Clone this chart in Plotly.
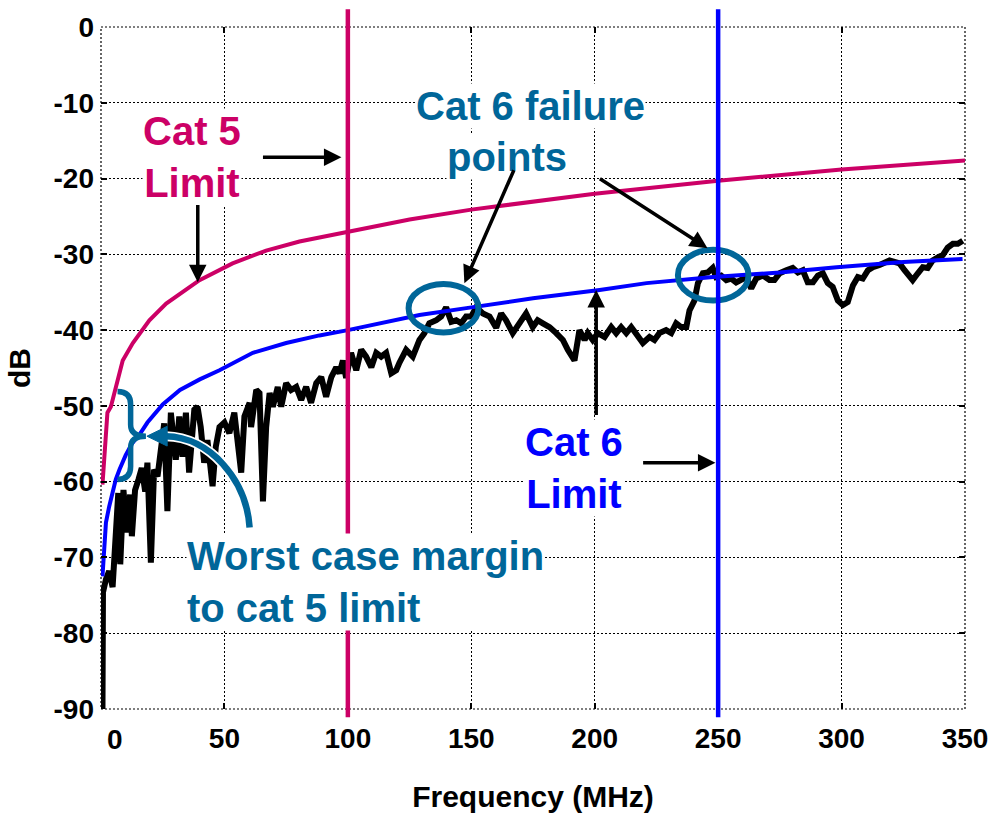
import plotly.graph_objects as go

# Measured NEXT of the link under test (MHz, dB)
meas_freq = [
    0.6, 0.8, 2.0, 3.3, 4.7, 5.6, 7.0, 7.8, 9.1, 10.5, 11.8, 12.5, 13.8, 15.2, 16.5,
    17.9, 18.8, 20.2, 21.5, 22.9, 24.2, 25.6, 26.9, 28.3, 30.3, 31.7, 33.0, 34.4, 35.7,
    37.8, 39.1, 40.4, 41.8, 43.1, 45.2, 46.5,
    48.0, 50.0, 52.0, 54.0, 56.8, 58.1, 60.2, 60.8, 62.9, 64.2, 65.6, 66.9, 68.3, 69.6,
    71.6, 73.0, 75.0, 77.0, 79.1, 81.1, 83.1, 85.1, 87.2, 89.2, 91.2, 93.3, 95.3, 96.6,
    98.0, 99.3, 101.3, 103.4, 105.4, 107.4, 109.5, 111.5, 113.5, 115.5, 117.6, 119.6,
    120.9, 123.6, 126.3, 129.0, 131.0, 133.0, 135.8, 137.8, 139.8, 141.9, 143.9, 145.9,
    147.9, 150.0, 152.0, 154.7, 157.4, 160.1, 162.1, 164.1, 166.8, 169.5, 172.2, 174.9,
    176.9, 179.0, 181.7, 184.4, 187.1, 189.1, 191.8,
    193.8, 195.9, 197.2, 199.2, 201.3, 204.0, 206.7, 208.7, 210.7, 212.8, 214.8, 216.8,
    219.5, 222.2, 224.2, 226.2, 228.9, 231.0, 233.0, 235.0, 237.1, 238.4, 240.4, 241.8,
    243.8, 245.8, 247.8, 249.2, 251.2, 253.3, 255.3, 257.3, 259.3, 261.4, 263.4, 265.4,
    268.1,
    270.8, 272.8, 274.9, 277.6, 280.2, 282.3, 284.3, 286.3, 288.4, 290.4, 292.4, 294.4,
    296.4, 298.5, 300.5, 302.5, 304.6, 306.6, 308.6, 310.7, 312.7, 315.4, 317.4, 319.4,
    321.4, 323.5, 325.5, 327.5, 328.8, 330.9, 332.9, 334.9, 336.9, 339.0, 341.0, 343.0,
    345.1, 347.1, 349.1,
]
meas_db = [
    -90.0, -74.6, -72.9, -71.8, -73.9, -67.6, -61.5, -70.9, -61.1, -66.7, -61.7, -67.2,
    -61.1, -59.7, -58.2, -61.3, -57.5, -70.7, -58.4, -59.3, -55.4, -52.3, -63.9, -50.9,
    -57.1, -51.4, -56.7, -50.9, -58.8, -50.5, -50.1, -52.8, -57.5, -54.5, -60.6, -55.4,
    -52.8, -52.2, -53.6, -50.9, -58.8, -51.4, -49.6, -52.8, -47.9, -48.3, -62.6, -52.8,
    -48.3, -50.1, -47.5, -50.1, -47.0, -47.9, -47.5, -49.2, -47.5, -49.6, -47.0, -46.2,
    -48.8, -46.2, -44.9, -45.7, -44.0, -46.3, -43.0, -45.3, -42.6, -43.5, -44.9, -43.0,
    -43.5, -43.0, -45.7, -45.3,
    -44.3, -42.6, -43.5, -41.3, -40.4, -39.1, -38.7, -38.2, -37.0, -38.9, -38.7, -39.1,
    -38.2, -38.2, -37.0, -37.8, -38.2, -39.7, -37.8, -38.7, -40.4, -39.1, -37.8, -39.6,
    -38.7, -39.1, -39.6, -40.4, -41.3, -42.6, -44.0,
    -40.0, -41.3, -40.4, -41.3, -40.4, -40.9, -39.6, -40.4, -39.6, -40.4, -39.6, -40.4,
    -41.7, -40.9, -41.3, -40.4, -40.0, -40.4, -39.1, -39.6, -39.6, -37.4, -36.1, -33.8,
    -32.5, -32.4, -31.8, -33.0, -32.8, -33.4, -33.2, -33.7, -33.4, -33.0, -34.5, -33.2,
    -32.8,
    -33.4, -33.4, -32.5, -32.1, -31.8, -32.4, -32.1, -33.7, -33.7, -32.8, -32.5, -33.8,
    -34.3, -36.1, -36.7, -36.3, -34.1, -33.0, -33.2, -32.1, -31.7, -31.4, -31.2, -30.8,
    -31.0, -31.2, -32.1, -32.8, -33.4, -32.5, -31.7, -31.8, -30.8, -30.4, -30.1, -29.1,
    -28.6, -28.6, -28.2,
]

# Cat 5 channel NEXT limit
cat5_freq = [0.6, 1.3, 2.0, 2.6, 4.0, 5.3, 6.7, 8.8, 12.9, 15.6, 19.6, 26.4, 30.5, 39.9,
             53.3, 66.9, 80.4, 99.3, 125, 150, 175, 200, 250, 300, 350]
cat5_db = [-60.4, -57.5, -53.6, -50.9, -50.1, -48.3, -46.4, -44.0, -41.7, -40.4, -38.7,
           -36.5, -35.6, -33.4, -31.2, -29.5, -28.3, -27.1, -25.4, -24.1, -23.0, -22.0,
           -20.3, -18.8, -17.6]

# Cat 6 channel NEXT limit
cat6_freq = [0.6, 1.3, 2.0, 3.3, 4.7, 6.0, 7.5, 10, 12.5, 16.0, 18.8, 25, 32, 40, 48,
             61.5, 75, 88.5, 100, 115.5, 129, 148, 175, 202, 221, 248, 275, 298, 325, 349]
cat6_db = [-72.5, -68.6, -65.4, -63.3, -61.4, -59.7, -58.4, -56.5, -55.0, -53.6, -52.2,
           -49.8, -47.9, -46.5, -45.3, -43.0, -41.7, -40.7, -40.0, -38.9, -38.0, -37.1,
           -35.8, -34.7, -33.8, -33.0, -32.4, -31.7, -31.0, -30.6]

# Upper frequency of each category (MHz)
cat5_max_freq = 100
cat6_max_freq = 250

x_ticks = [0, 50, 100, 150, 200, 250, 300, 350]
x_tick_text = ["", "50", "100", "150", "200", "250", "300", "350"]
y_ticks = [0, -10, -20, -30, -40, -50, -60, -70, -80, -90]
y_tick_text = ["0", "-10", "-20", "-30", "-40", "-50", "-60", "-70", "-80", "-90"]

FONT = "Liberation Sans, Arial, sans-serif"
CRIMSON = "#CC0066"
BLUE = "#0000FF"
TEAL = "#006699"
TICK_SIZE = 28

fig = go.Figure()
fig.add_trace(go.Scatter(x=meas_freq, y=meas_db, mode="lines",
                         line=dict(color="black", width=6), hoverinfo="skip"))
fig.add_trace(go.Scatter(x=cat5_freq, y=cat5_db, mode="lines",
                         line=dict(color=CRIMSON, width=4), hoverinfo="skip"))
fig.add_trace(go.Scatter(x=cat6_freq, y=cat6_db, mode="lines",
                         line=dict(color=BLUE, width=4), hoverinfo="skip"))

shapes = []
# dotted frame around the plotting area
shapes.append(dict(type="rect", xref="paper", yref="paper", x0=0, x1=1, y0=0, y1=1,
                   layer="below", line=dict(color="black", width=1.2, dash="2px,2px")))
# curly brace marking the margin to the cat 5 limit
shapes.append(dict(type="path", xref="x", yref="y",
                   path="M 6.7,-48.1 Q 12,-48.1 12,-49.8 L 12,-52.5 Q 12,-54 18.2,-54 "
                        "Q 12,-54 12,-55.5 L 12,-58 Q 12,-59.7 6.7,-59.7",
                   line=dict(color=TEAL, width=5.5)))
# curved pointer from the margin label to the brace
arc = "M 60.2,-66.05 C 58.9,-59.7 43.95,-54.1 26.3,-54.0"
shapes.append(dict(type="path", xref="x", yref="y", path=arc,
                   line=dict(color="white", width=10)))
shapes.append(dict(type="path", xref="x", yref="y", path=arc,
                   line=dict(color=TEAL, width=6.5)))
shapes.append(dict(type="path", xref="x", yref="y",
                   path="M 18.6,-54.0 L 26.8,-52.7 L 26.8,-55.3 Z",
                   fillcolor=TEAL, line=dict(color=TEAL, width=1)))
# rings around the cat 6 failure points
shapes.append(dict(type="circle", xref="x", yref="y", x0=124.6, x1=152.9, y0=-40.3, y1=-33.9,
                   line=dict(color=TEAL, width=6)))
shapes.append(dict(type="circle", xref="x", yref="y", x0=233.7, x1=262.3, y0=-36.1, y1=-29.4,
                   line=dict(color=TEAL, width=6)))
# category upper frequency markers
shapes.append(dict(type="line", xref="x", yref="paper", x0=cat5_max_freq, x1=cat5_max_freq,
                   y0=-0.012, y1=1.026, line=dict(color=CRIMSON, width=4.5)))
shapes.append(dict(type="line", xref="x", yref="paper", x0=cat6_max_freq, x1=cat6_max_freq,
                   y0=-0.012, y1=1.026, line=dict(color=BLUE, width=4.5)))

ann_font = dict(family=FONT, size=40, weight="bold")
annotations = [
    dict(text="Cat 5<br>Limit", x=36.7, y=-17.2, font=dict(ann_font, color=CRIMSON)),
    dict(text="Cat 6 failure", x=174.0, y=-10.4, font=dict(ann_font, color=TEAL)),
    dict(text="points", x=164.3, y=-17.2, font=dict(ann_font, color=TEAL)),
    dict(text="Cat 6<br>Limit", x=191.8, y=-58.2, font=dict(ann_font, color=BLUE)),
    dict(text="Worst case margin<br>to cat 5 limit", x=34.6, y=-73.3, xanchor="left",
         align="left", font=dict(ann_font, color=TEAL)),
]
for a in annotations:
    a.update(xref="x", yref="y", showarrow=False, bgcolor="white", borderpad=0)

# first x tick label sits slightly inside the axis
annotations.append(dict(text="0", x=5.6, xref="x", y=-0.045, yref="paper", yanchor="middle",
                        showarrow=False,
                        font=dict(family=FONT, size=TICK_SIZE, weight="bold", color="black")))

arrows = [
    ((97.4, -17.2), (65.0, -17.2)),
    ((39.2, -33.7), (39.2, -23.3)),
    ((147.2, -33.8), (167.5, -18.7)),
    ((245.7, -29.2), (201.5, -19.9)),
    ((200.6, -34.7), (200.6, -51.4)),
    ((248.9, -57.5), (219.0, -57.5)),
]
for (hx, hy), (tx, ty) in arrows:
    annotations.append(dict(text="", x=hx, y=hy, ax=tx, ay=ty, xref="x", yref="y",
                            axref="x", ayref="y", showarrow=True, arrowhead=2,
                            arrowsize=1.0, arrowwidth=3.5, arrowcolor="black", standoff=0))

axis_common = dict(showgrid=True, gridcolor="black", gridwidth=1.2, griddash="2px,2px",
                   zeroline=False, showline=False, ticks="inside", ticklen=6,
                   tickcolor="black", tickwidth=1.5, mirror="ticks",
                   tickfont=dict(family=FONT, size=TICK_SIZE, weight="bold", color="black"))

fig.update_layout(
    width=1003, height=819,
    margin=dict(l=101, r=38, t=26, b=109),
    paper_bgcolor="white", plot_bgcolor="white",
    showlegend=False,
    shapes=shapes,
    annotations=annotations,
    xaxis=dict(axis_common, range=[0, 350], tickvals=x_ticks, ticktext=x_tick_text,
               ticklabelstandoff=10,
               title=dict(text="Frequency (MHz)", standoff=32,
                          font=dict(family=FONT, size=30, weight="bold", color="black"))),
    yaxis=dict(axis_common, range=[-90, 0], tickvals=y_ticks, ticktext=y_tick_text,
               ticklabelstandoff=6,
               title=dict(text="dB", standoff=14,
                          font=dict(family=FONT, size=30, weight="bold", color="black"))),
)

fig.write_html("out.html")
